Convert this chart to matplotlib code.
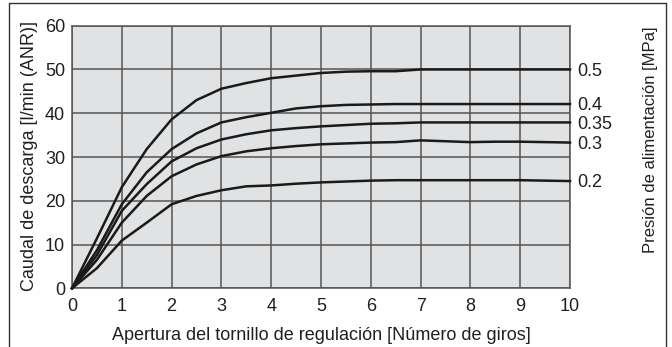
import matplotlib
matplotlib.use("Agg")
import matplotlib.pyplot as plt
from matplotlib.lines import Line2D

plt.rcParams['font.family'] = ['Liberation Sans', 'DejaVu Sans']

turns = [0, 0.5, 1, 1.5, 2, 2.5, 3, 3.5, 4, 4.5, 5, 5.5, 6, 6.5, 7, 7.5, 8, 8.5, 9, 9.5, 10]
p05 = [0, 11.4, 23.1, 31.8, 38.6, 43.0, 45.6, 46.9, 48.0, 48.6, 49.2, 49.5, 49.6, 49.6, 50, 50, 50, 50, 50, 50, 50]
p04 = [0, 8.7, 19.2, 26.5, 31.8, 35.4, 37.9, 39.1, 40.1, 41.1, 41.6, 41.9, 42.0, 42.1, 42.1, 42.1, 42.1, 42.1, 42.1, 42.1, 42.1]
p035 = [0, 7.6, 17.7, 23.8, 29.0, 32.0, 34.0, 35.2, 36.1, 36.6, 37.0, 37.3, 37.6, 37.7, 37.9, 37.9, 37.9, 37.9, 37.9, 37.9, 37.9]
p03 = [0, 6.5, 15.0, 21.1, 25.6, 28.3, 30.2, 31.3, 32.0, 32.5, 32.9, 33.1, 33.3, 33.4, 33.8, 33.6, 33.4, 33.5, 33.5, 33.4, 33.3]
p02 = [0, 4.6, 10.9, 15.0, 19.2, 21.1, 22.4, 23.3, 23.5, 23.9, 24.2, 24.4, 24.6, 24.7, 24.7, 24.7, 24.7, 24.7, 24.7, 24.6, 24.5]
series = [p05, p04, p035, p03, p02]
pressure_labels = ["0.5", "0.4", "0.35", "0.3", "0.2"]

xticks = list(range(0, 11))
yticks = list(range(0, 61, 10))

txt = '#231f20'
fs = 13
W, H = 672, 347
fig = plt.figure(figsize=(6.72, 3.47), dpi=100)
ax = fig.add_axes([72/W, 1-288.3/H, (570-72)/W, (288.3-25.7)/H])
ax.set_facecolor('#e1e2e3')
ax.set_xlim(0, 10)
ax.set_ylim(0, 60)
ax.set_xticks(xticks)
ax.set_yticks(yticks)
ax.grid(True, color='#555555', lw=1.1)
ax.set_axisbelow(True)
for s in ax.spines.values():
    s.set_color('#555555')
    s.set_linewidth(1.1)
ax.tick_params(length=0, labelsize=fs, colors=txt)
ax.tick_params(axis='x', pad=7)
ax.tick_params(axis='y', pad=5)

for ys in series:
    ax.plot(turns, ys, color='#1a1a1a', lw=1.8, clip_on=False, zorder=3)

for ys, lab in zip(series, pressure_labels):
    ax.text(10.15, ys[-1] - 0.4, lab, fontsize=fs, color=txt, va='center', ha='left', clip_on=False)

fig.text(321/W, 1-340/H, 'Apertura del tornillo de regulación [Número de giros]', fontsize=fs,
         color=txt, ha='center', va='baseline')
fig.text(29.5/W, 1-156/H, 'Caudal de descarga [l/min (ANR)]', rotation=90, fontsize=fs,
         color=txt, ha='center', va='center')
fig.text(650/W, 1-140/H, 'Presión de alimentación [MPa]', rotation=90, fontsize=12,
         color=txt, ha='center', va='center')

# outer frame (bottom cut off)
fig.add_artist(Line2D([9/W, 9/W, 666/W, 666/W], [0, 1-3/H, 1-3/H, 0],
                      transform=fig.transFigure, color='#333333', lw=1.0))

fig.savefig('out.png', dpi=100)
